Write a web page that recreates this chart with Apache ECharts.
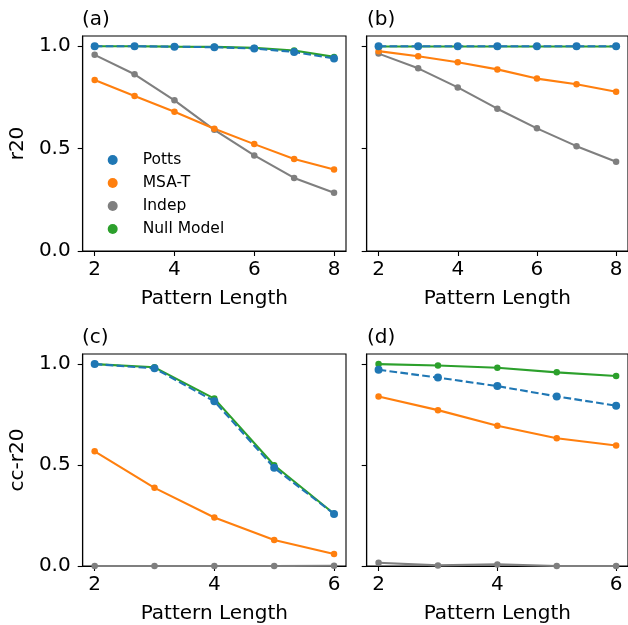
<!DOCTYPE html>
<html>
<head>
  <meta charset="utf-8">
</head>
<body style="margin: 0; background: #fff">
  <div id="container" style="width: 628px; height: 625px"></div>

  <script type="text/javascript" src="https://fastly.jsdelivr.net/npm/echarts@6/dist/echarts.min.js"></script>

  <script type="text/javascript">
    // pattern lengths
    var lenTop = [2, 3, 4, 5, 6, 7, 8];
    var lenBottom = [2, 3, 4, 5, 6];

    // (a) r20
    var aPotts = [1.0, 1.0, 0.998, 0.995, 0.989, 0.972, 0.94];
    var aMsaT = [0.835, 0.757, 0.680, 0.597, 0.522, 0.449, 0.398];
    var aIndep = [0.958, 0.863, 0.736, 0.592, 0.467, 0.357, 0.285];
    var aNull = [1.0, 1.0, 0.998, 0.997, 0.992, 0.979, 0.948];

    // (b) r20
    var bPotts = [1.0, 1.0, 1.0, 1.0, 1.0, 1.0, 1.0];
    var bMsaT = [0.976, 0.951, 0.922, 0.887, 0.842, 0.814, 0.778];
    var bIndep = [0.964, 0.892, 0.799, 0.695, 0.599, 0.512, 0.436];
    var bNull = [0.999, 0.999, 0.999, 0.999, 0.999, 0.999, 0.999];

    // (c) cc-r20
    var cPotts = [1.0, 0.979, 0.816, 0.486, 0.258];
    var cMsaT = [0.568, 0.387, 0.240, 0.129, 0.059];
    var cIndep = [0, 0, 0, 0, 0.001];
    var cNull = [1.0, 0.984, 0.829, 0.499, 0.259];

    // (d) cc-r20
    var dPotts = [0.972, 0.933, 0.891, 0.840, 0.794];
    var dMsaT = [0.840, 0.772, 0.695, 0.633, 0.597];
    var dIndep = [0.016, 0.003, 0.008, 0, 0];
    var dNull = [1.0, 0.993, 0.982, 0.959, 0.941];

    var panelLabels = ['(a)', '(b)', '(c)', '(d)'];
    var names = ['Potts', 'MSA-T', 'Indep', 'Null Model'];
    var colors = { 'Potts': '#1f77b4', 'MSA-T': '#ff7f0e', 'Indep': '#7f7f7f', 'Null Model': '#2ca02c' };

    var FONT = 'DejaVu Sans';
    var FS = 20;

    var dom = document.getElementById('container');
    var myChart = echarts.init(dom, null, { renderer: 'canvas' });

    function pairs(xs, ys) {
      return xs.map(function (x, i) { return [x, ys[i]]; });
    }

    var grids = [
      { left: 82.7, top: 36, width: 263.3, height: 215 },
      { left: 366.7, top: 36, width: 263.3, height: 215 },
      { left: 82.7, top: 354, width: 263.3, height: 214.7 },
      { left: 366.7, top: 354, width: 263.3, height: 214.7 }
    ].map(function (g) {
      g.show = true;
      g.borderColor = '#000';
      g.borderWidth = 1.1;
      g.backgroundColor = 'transparent';
      return g;
    });

    var xAxes = [0, 1, 2, 3].map(function (i) {
      var top = i < 2;
      return {
        type: 'value',
        gridIndex: i,
        min: top ? 1.7 : 1.8,
        max: top ? 8.3 : 6.2,
        name: 'Pattern Length',
        nameLocation: 'middle',
        nameGap: 38,
        nameTextStyle: { fontFamily: FONT, fontSize: FS, color: '#000' },
        axisLine: { show: true, onZero: false, lineStyle: { color: '#000', width: 1.1 } },
        axisTick: { show: true, length: 5, lineStyle: { color: '#000', width: 1.1 }, customValues: top ? [2, 4, 6, 8] : [2, 4, 6] },
        axisLabel: { show: true, margin: 9, fontFamily: FONT, fontSize: FS, color: '#000', customValues: top ? [2, 4, 6, 8] : [2, 4, 6] },
        splitLine: { show: false }
      };
    });

    var yAxes = [0, 1, 2, 3].map(function (i) {
      var left = i % 2 === 0;
      return {
        type: 'value',
        gridIndex: i,
        min: 0,
        max: 1.05,
        name: left ? (i === 0 ? 'r20' : 'cc-r20') : '',
        nameLocation: 'middle',
        nameGap: 55,
        nameRotate: 90,
        nameTextStyle: { fontFamily: FONT, fontSize: FS, color: '#000' },
        axisLine: { show: true, lineStyle: { color: '#000', width: 1.1 } },
        axisTick: { show: true, length: 5, lineStyle: { color: '#000', width: 1.1 }, customValues: [0, 0.5, 1] },
        axisLabel: {
          show: left, margin: 12, fontFamily: FONT, fontSize: FS, color: '#000',
          customValues: [0, 0.5, 1],
          formatter: function (v) { return v.toFixed(1); }
        },
        splitLine: { show: false }
      };
    });

    var panels = [
      { xs: lenTop, d: { 'Potts': aPotts, 'MSA-T': aMsaT, 'Indep': aIndep, 'Null Model': aNull } },
      { xs: lenTop, d: { 'Potts': bPotts, 'MSA-T': bMsaT, 'Indep': bIndep, 'Null Model': bNull } },
      { xs: lenBottom, d: { 'Potts': cPotts, 'MSA-T': cMsaT, 'Indep': cIndep, 'Null Model': cNull } },
      { xs: lenBottom, d: { 'Potts': dPotts, 'MSA-T': dMsaT, 'Indep': dIndep, 'Null Model': dNull } }
    ];

    // draw order: null model below, dashed Potts on top
    var drawOrder = ['Null Model', 'Indep', 'MSA-T', 'Potts'];
    var series = [];
    panels.forEach(function (p, i) {
      drawOrder.forEach(function (n) {
        series.push({
          name: n,
          type: 'line',
          xAxisIndex: i,
          yAxisIndex: i,
          data: pairs(p.xs, p.d[n]),
          symbol: 'circle',
          symbolSize: n === 'Potts' ? 8 : 6.5,
          showSymbol: true,
          animation: false,
          color: colors[n],
          itemStyle: { color: colors[n], borderWidth: 0 },
          lineStyle: { color: colors[n], width: 2.1, type: n === 'Potts' ? [7.7, 3.3] : 'solid' },
          emphasis: { disabled: true }
        });
      });
    });

    var titles = panelLabels.map(function (t, i) {
      return {
        text: t,
        left: i % 2 === 0 ? 82 : 367,
        top: i < 2 ? 10 : 328,
        padding: 0,
        textStyle: { fontFamily: FONT, fontSize: FS, fontWeight: 'normal', color: '#000' }
      };
    });

    var option = {
      backgroundColor: '#fff',
      animation: false,
      title: titles,
      legend: {
        data: names,
        orient: 'vertical',
        left: 107.7,
        top: 152,
        padding: 0,
        icon: 'circle',
        itemWidth: 10,
        itemHeight: 10,
        itemGap: 7,
        selectedMode: false,
        textStyle: { fontFamily: FONT, fontSize: 15.5, color: '#000', lineHeight: 16, padding: [0, 0, 0, 20] }
      },
      grid: grids,
      xAxis: xAxes,
      yAxis: yAxes,
      series: series
    };

    myChart.setOption(option);
    window.addEventListener('resize', myChart.resize);
  </script>
</body>
</html>
